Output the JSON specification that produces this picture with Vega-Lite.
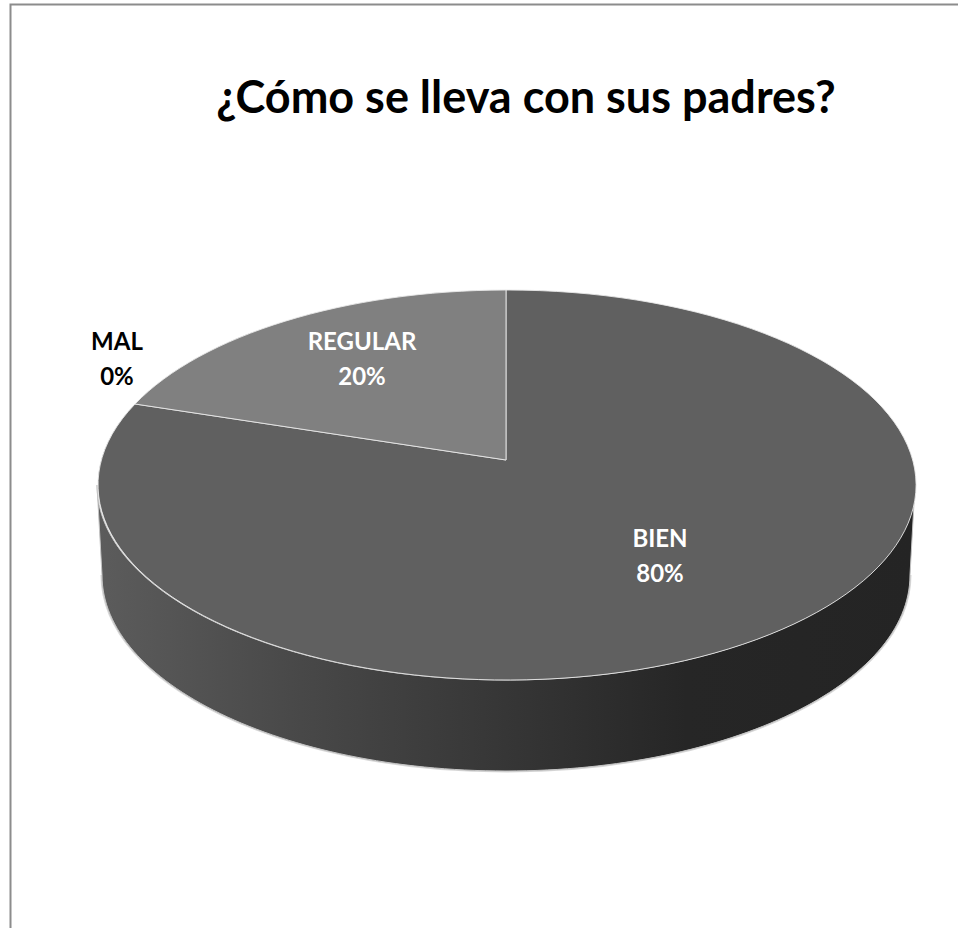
{
"$schema":"https://vega.github.io/schema/vega-lite/v6.json",
"width":958,"height":928,"padding":0,"autosize":{"type":"none"},
"background":"white",
"view":{"stroke":null},
"title":{"text":"¿Cómo se lleva con sus padres?","font":"Lato","fontWeight":"bold","fontSize":45,"color":"#000000","anchor":"middle","frame":"group","baseline":"alphabetic","offset":0,"dx":47,"dy":158},
"data":{"values":[{"categoria":"BIEN","porcentaje":80},{"categoria":"REGULAR","porcentaje":20},{"categoria":"MAL","porcentaje":0}]},
"transform":[{"calculate":"datum.categoria + '\\n' + datum.porcentaje + '%'","as":"etiqueta"}],
"layer":[
{"mark":{"type":"point","filled":false,"size":4,"opacity":1,"stroke":"#8c8c8c","strokeWidth":2,"shape":"M-468.5 464 L-468.5 -459.5 L479 -459.5"},"transform":[{"filter":"datum.categoria === 'BIEN'"}]},
{"mark":{"type":"point","filled":false,"size":4,"opacity":0.5,"stroke":"#b0b0b0","strokeWidth":3,"shape":"M431 111 A404 196 0 0 1 -377 111"},"transform":[{"filter":"datum.categoria === 'BIEN'"}]},
{"mark":{"type":"point","filled":true,"size":4,"opacity":1,"stroke":"#c4c4c4","strokeWidth":1,"shape":"M-382 21 A409 195 0 0 0 436 21 L431 111 A404 196 0 0 1 -377 111 Z","fill":{"gradient":"linear","x1":0,"y1":0,"x2":1,"y2":0,"stops":[{"offset":0,"color":"#5c5c5c"},{"offset":0.25,"color":"#484848"},{"offset":0.5,"color":"#363636"},{"offset":0.72,"color":"#262626"},{"offset":1,"color":"#242424"}]}},"transform":[{"filter":"datum.categoria === 'BIEN'"}]},
{"mark":{"type":"point","filled":true,"size":4,"opacity":1,"stroke":"#e8e8e8","strokeWidth":0.9},
"encoding":{
"shape":{"field":"categoria","type":"nominal","legend":null,"scale":{"domain":["BIEN","REGULAR","MAL"],"range":["M27 -4 L-344 -60 A409 195 0 1 0 27 -174 Z","M27 -4 L27 -174 A409 195 0 0 0 -344 -60 Z","M0 0 Z"]}},
"color":{"field":"categoria","type":"nominal","legend":null,"scale":{"domain":["BIEN","REGULAR","MAL"],"range":["#606060","#808080","#b0b0b0"]}}}},
{"transform":[{"filter":"datum.categoria === 'MAL'"}],"mark":{"type":"text","font":"Lato","fontWeight":"bold","fontSize":24,"lineBreak":"\n","lineHeight":35,"align":"center","baseline":"middle","color":"#000000","dx":-362,"dy":-121},"encoding":{"text":{"field":"etiqueta"}}},
{"transform":[{"filter":"datum.categoria === 'REGULAR'"}],"mark":{"type":"text","font":"Lato","fontWeight":"bold","fontSize":24,"lineBreak":"\n","lineHeight":35,"align":"center","baseline":"middle","color":"#ffffff","dx":-117,"dy":-121},"encoding":{"text":{"field":"etiqueta"}}},
{"transform":[{"filter":"datum.categoria === 'BIEN'"}],"mark":{"type":"text","font":"Lato","fontWeight":"bold","fontSize":24,"lineBreak":"\n","lineHeight":35,"align":"center","baseline":"middle","color":"#ffffff","dx":181,"dy":76},"encoding":{"text":{"field":"etiqueta"}}}
]
}
